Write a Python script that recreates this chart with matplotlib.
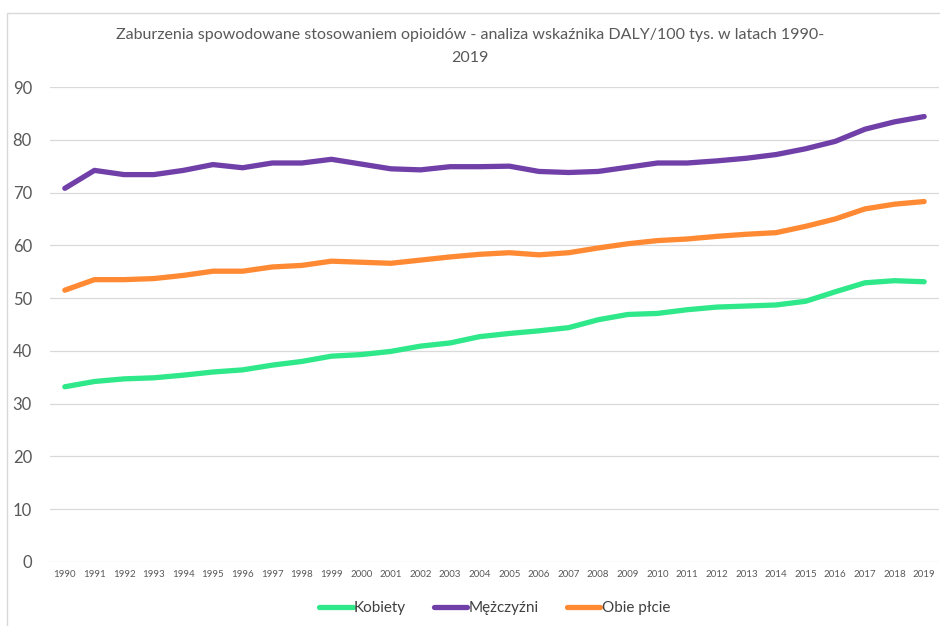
import matplotlib
matplotlib.use('Agg')
import matplotlib.pyplot as plt
from matplotlib.patches import Rectangle

plt.rcParams['font.family'] = ['Lato', 'DejaVu Sans']

# dane
lata = [str(r) for r in range(1990, 2020)]
kobiety = [33.2, 34.2, 34.7, 34.9, 35.4, 36.0, 36.4, 37.3, 38.0, 39.0,
           39.3, 39.9, 40.9, 41.5, 42.7, 43.3, 43.8, 44.4, 45.9, 46.9,
           47.1, 47.8, 48.3, 48.5, 48.7, 49.4, 51.2, 52.9, 53.3, 53.1]
mezczyzni = [70.8, 74.2, 73.4, 73.4, 74.2, 75.3, 74.7, 75.6, 75.6, 76.3,
             75.4, 74.5, 74.3, 74.9, 74.9, 75.0, 74.0, 73.8, 74.0, 74.8,
             75.6, 75.6, 76.0, 76.5, 77.2, 78.3, 79.7, 82.0, 83.4, 84.4]
obie = [51.5, 53.5, 53.5, 53.7, 54.3, 55.1, 55.1, 55.9, 56.2, 57.0,
        56.8, 56.6, 57.2, 57.8, 58.3, 58.6, 58.2, 58.6, 59.5, 60.3,
        60.9, 61.2, 61.7, 62.1, 62.4, 63.6, 65.0, 66.9, 67.8, 68.3]

szary = '#595959'

fig = plt.figure(figsize=(9.4, 6.26), dpi=100)
ax = fig.add_axes([50 / 940, 1 - 562 / 626, 889 / 940, 475 / 626])

# ramka wykresu jak w Excelu
fig.patches.append(Rectangle((7 / 940, -0.01), 1.0, 1 - 13 / 626 + 0.01,
                             transform=fig.transFigure, fill=False,
                             edgecolor='#d9d9d9', linewidth=1))

x = range(len(lata))
ax.plot(x, kobiety, color='#2EE88A', lw=3.8, label='Kobiety', solid_capstyle='round')
ax.plot(x, mezczyzni, color='#7040A8', lw=3.8, label='Mężczyźni', solid_capstyle='round')
ax.plot(x, obie, color='#FF8A33', lw=3.8, label='Obie płcie', solid_capstyle='round')

ax.set_xlim(-0.5, len(lata) - 0.5)
ax.set_ylim(0, 90)
ax.set_yticks(range(0, 91, 10))
ax.set_xticks(list(x))
ax.set_xticklabels(lata, fontsize=7, color=szary)
ax.tick_params(axis='y', labelsize=12, labelcolor=szary, length=0, pad=13)
ax.tick_params(axis='x', length=0, pad=6)
ax.grid(axis='y', color='#d9d9d9', lw=0.9)
ax.set_axisbelow(True)
for s in ax.spines.values():
    s.set_visible(False)

fig.text(0.5, 1 - 35 / 626,
         'Zaburzenia spowodowane stosowaniem opioidów - analiza wskaźnika DALY/100 tys. w latach 1990-',
         ha='center', va='center', fontsize=11.5, color=szary)
fig.text(0.5, 1 - 58 / 626, '2019', ha='center', va='center', fontsize=11.5, color=szary)

ax.legend(loc='center', bbox_to_anchor=(0.5, (562 - 608) / 475), ncol=3, frameon=False,
          fontsize=11, labelcolor='#404040', handlelength=2.2, handletextpad=0.1,
          columnspacing=1.8)

fig.savefig('out.png', dpi=100)
